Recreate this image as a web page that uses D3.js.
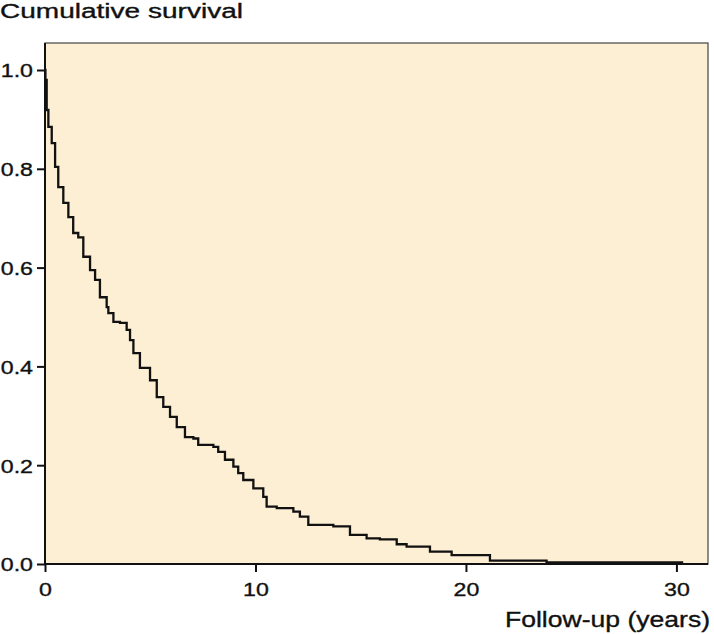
<!DOCTYPE html>
<html lang="en">
<head>
<meta charset="utf-8">
<title>Cumulative survival</title>
<style>
  body { margin: 0; background: #fff; }
  svg text { font-family: "Liberation Sans", Arial, Helvetica, sans-serif; fill: #111; stroke: #111; stroke-width: 0.35px; }
</style>
</head>
<body>
<div id="chart"></div>
<script src="https://d3js.org/d3.v7.min.js"></script>
<script>
// follow-up time (years) and survival after each step
var years = [0, 0.02, 0.08, 0.16, 0.32, 0.48, 0.63, 0.87, 1.11, 1.34, 1.58, 1.82, 2.14, 2.38, 2.61, 2.93,
  3.01, 3.25, 3.56, 3.88, 4.04, 4.20, 4.51, 4.99, 5.31, 5.62, 5.94, 6.26, 6.65, 7.05, 7.28, 8.00,
  8.23, 8.55, 8.95, 9.18, 9.42, 9.90, 10.37, 10.53, 11.01, 11.80, 12.11, 12.51, 13.70, 14.49,
  15.28, 15.91, 16.71, 17.18, 18.29, 19.32, 21.14, 23.83, 30.32];
var survival = [1.0, 0.980, 0.919, 0.885, 0.852, 0.804, 0.763, 0.731, 0.702, 0.670, 0.661, 0.622, 0.595, 0.575, 0.540, 0.520,
  0.508, 0.490, 0.488, 0.474, 0.453, 0.427, 0.397, 0.372, 0.338, 0.318, 0.298, 0.277, 0.257, 0.254, 0.241, 0.237,
  0.227, 0.211, 0.197, 0.184, 0.170, 0.153, 0.136, 0.116, 0.113, 0.106, 0.096, 0.079, 0.076, 0.059,
  0.052, 0.050, 0.040, 0.035, 0.025, 0.018, 0.007, 0.003, 0.003];
var xTicks = [0, 10, 20, 30];
var yTicks = [0, 0.2, 0.4, 0.6, 0.8, 1.0];

var width = 714, height = 634;
var padL = 45, padR = 708, padT = 43, padB = 564;
var stretch = 1.22; // the lettering in the reference is a bit wide

var x = d3.scaleLinear().domain([0, 31.5]).range([padL, padR]);
var y = d3.scaleLinear().domain([0, 1]).range([padB, 70]);

var svg = d3.select("#chart").append("svg")
  .attr("width", width)
  .attr("height", height);

// plot panel
svg.append("rect")
  .attr("x", padL)
  .attr("y", padT)
  .attr("width", padR - padL)
  .attr("height", padB - padT)
  .attr("fill", "#fdefd3")
  .attr("stroke", "#444")
  .attr("stroke-width", 1.2);

// survival curve
var pts = years.map(function(t, i) { return [t, survival[i]]; });
var line = d3.line()
  .x(function(d) { return x(d[0]); })
  .y(function(d) { return y(d[1]); })
  .curve(d3.curveStepAfter);

svg.append("path")
  .datum(pts)
  .attr("d", line)
  .attr("fill", "none")
  .attr("stroke", "#111")
  .attr("stroke-width", 2.3);

// axes
var yAxis = svg.append("g")
  .attr("transform", "translate(" + padL + ",0)")
  .call(d3.axisLeft(y).tickValues(yTicks).tickFormat(d3.format(".1f")).tickSize(8).tickPadding(4).tickSizeOuter(0));
yAxis.select(".domain").attr("d", "M0," + padT + "V" + padB);

var xAxis = svg.append("g")
  .attr("transform", "translate(0," + padB + ")")
  .call(d3.axisBottom(x).tickValues(xTicks).tickSize(8).tickPadding(4).tickSizeOuter(0));
xAxis.select(".domain").attr("d", "M" + padL + ",0H" + padR);

svg.selectAll(".domain").attr("stroke", "#111").attr("stroke-width", 2);
svg.selectAll(".tick line").attr("stroke", "#111").attr("stroke-width", 2);
svg.selectAll(".tick text")
  .attr("font-size", 19)
  .attr("fill", "#111")
  .style("font-family", "'Liberation Sans', Arial, sans-serif");

yAxis.selectAll(".tick text")
  .attr("x", -12 / stretch)
  .attr("dy", "0.36em")
  .attr("transform", "scale(" + stretch + ",1)");
xAxis.selectAll(".tick text")
  .attr("y", 0)
  .attr("dy", 32)
  .attr("transform", "scale(" + stretch + ",1)")
  .attr("x", 0);

// axis titles
svg.append("text")
  .attr("x", 0)
  .attr("y", 18)
  .attr("font-size", 20)
  .attr("textLength", 243)
  .attr("lengthAdjust", "spacingAndGlyphs")
  .text("Cumulative survival");

svg.append("text")
  .attr("x", 505)
  .attr("y", 627)
  .attr("font-size", 22)
  .attr("textLength", 205)
  .attr("lengthAdjust", "spacingAndGlyphs")
  .text("Follow-up (years)");
</script>
</body>
</html>
